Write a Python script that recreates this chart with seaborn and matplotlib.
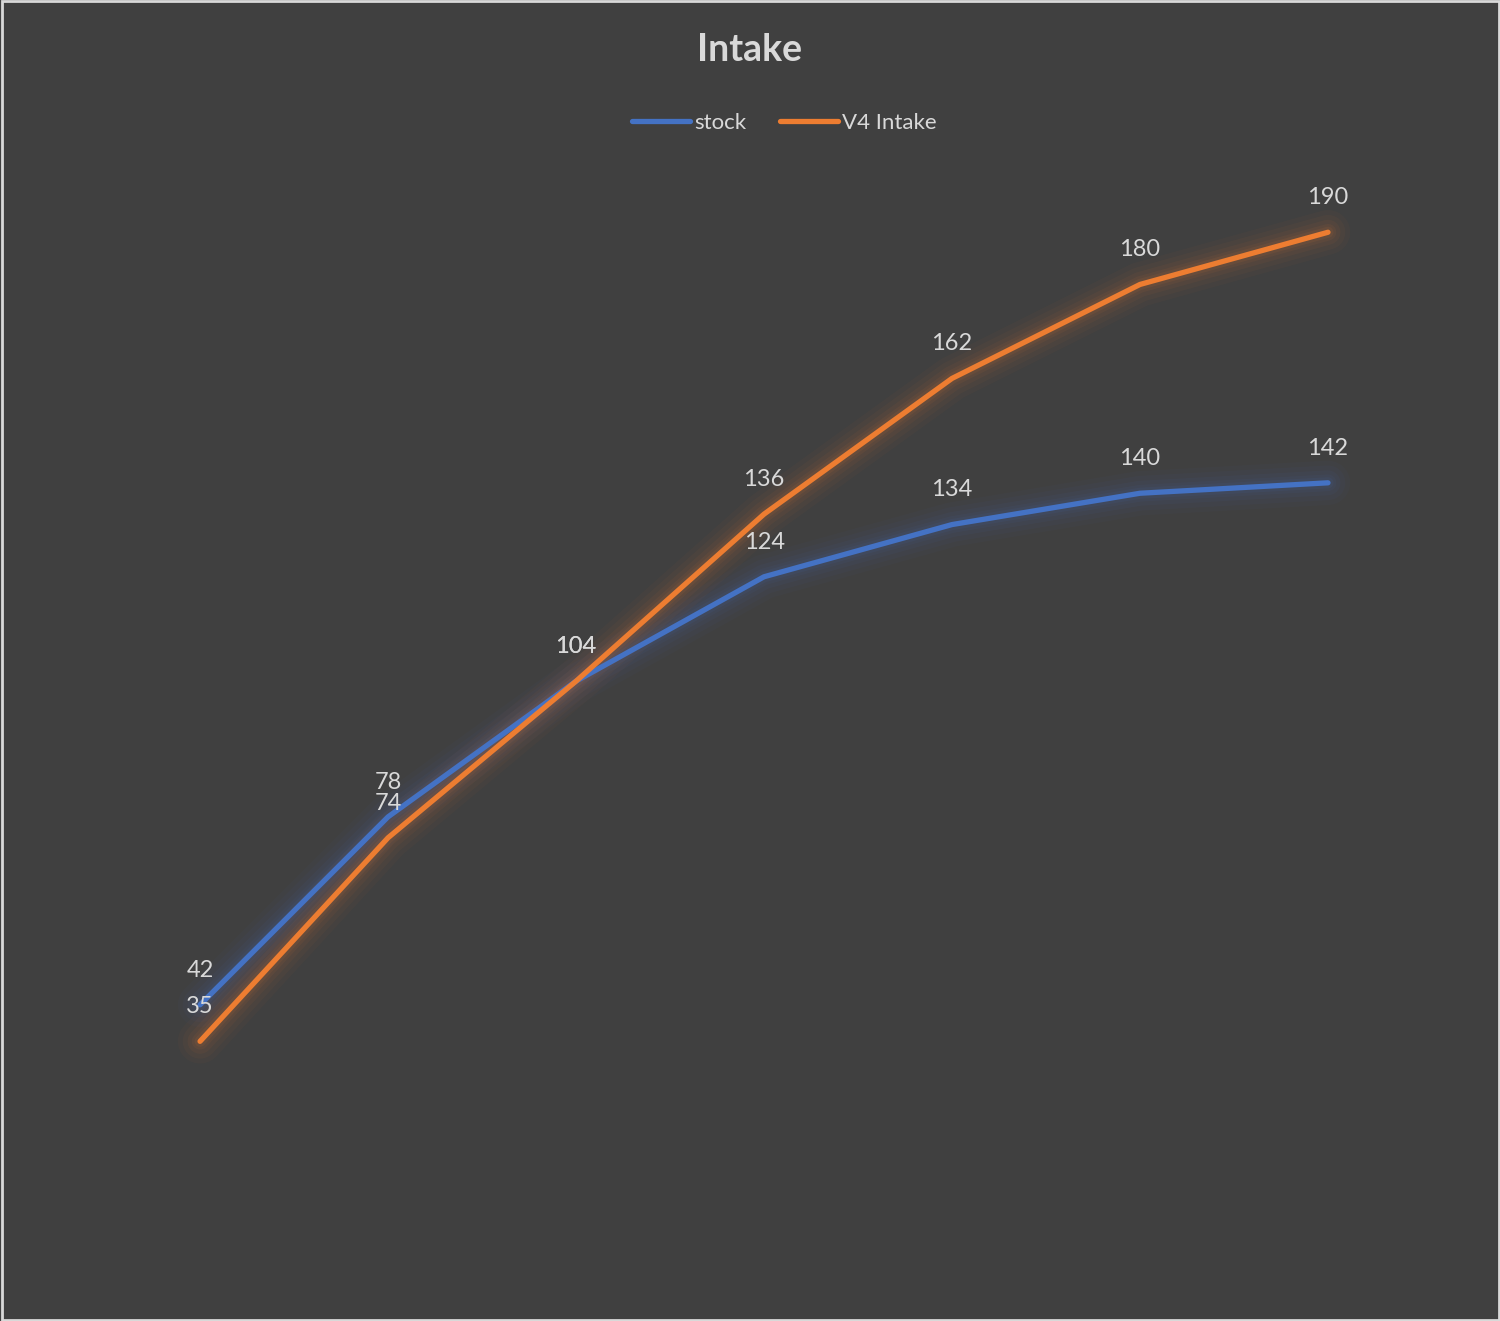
import matplotlib
matplotlib.use("Agg")
import matplotlib.pyplot as plt
import seaborn as sns
import pandas as pd

# data
points = [1, 2, 3, 4, 5, 6, 7]
stock = [42, 78, 104, 124, 134, 140, 142]
v4_intake = [35, 74, 104, 136, 162, 180, 190]

df = pd.DataFrame({"point": points * 2,
                   "value": stock + v4_intake,
                   "series": ["stock"] * 7 + ["V4 Intake"] * 7})

sns.set_theme(style="dark")
plt.rcParams["font.family"] = ["Lato", "DejaVu Sans"]

bg = "#404040"
txt = "#D9D9D9"
colors = {"stock": "#4472C4", "V4 Intake": "#ED7D31"}

fig = plt.figure(figsize=(15, 13.21), dpi=100, facecolor=bg)
ax = fig.add_axes([0.0707, 0.0734, 0.8773, 0.7903])
ax.set_facecolor(bg)

# soft glow under each line
for name in ["stock", "V4 Intake"]:
    sub = df[df["series"] == name]
    for w, a in [(32, 0.03), (25, 0.04), (18, 0.05), (12, 0.06), (8, 0.08)]:
        sns.lineplot(data=sub, x="point", y="value", color=colors[name],
                     lw=w, alpha=a, ax=ax, legend=False,
                     solid_capstyle="round", solid_joinstyle="round")

sns.lineplot(data=df, x="point", y="value", hue="series", palette=colors,
             lw=3.8, ax=ax, legend=False,
             solid_capstyle="round", solid_joinstyle="round")

# data labels above points
for vals in [stock, v4_intake]:
    for x, v in zip(points, vals):
        ax.annotate(str(v), (x, v), xytext=(0, 25), textcoords="offset points",
                    ha="center", va="center", color=txt, fontsize=17)

ax.set_xlim(0.5, 7.5)
ax.set_ylim(0, 200)
ax.set_xlabel("")
ax.set_ylabel("")
ax.set_xticks([])
ax.set_yticks([])
for s in ax.spines.values():
    s.set_visible(False)

fig.text(0.5, 0.962, "Intake", ha="center", va="center", color=txt,
         fontsize=27, fontweight="bold")

handles = [plt.Line2D([], [], color=colors[n], lw=3.8, solid_capstyle="round")
           for n in ["stock", "V4 Intake"]]
fig.legend(handles, ["stock", "V4 Intake"], loc="center", ncol=2,
           bbox_to_anchor=(0.523, 0.907), frameon=False, fontsize=16,
           labelcolor=txt, handlelength=2.6, handletextpad=0.2,
           columnspacing=1.5)

# thin light border around the whole chart
fig.patches.append(plt.Rectangle((0.001, 0.001), 0.998, 0.998,
                                 transform=fig.transFigure, fill=False,
                                 edgecolor="#D9D9D9", lw=2))

fig.savefig("out.png", dpi=100, facecolor=bg)
